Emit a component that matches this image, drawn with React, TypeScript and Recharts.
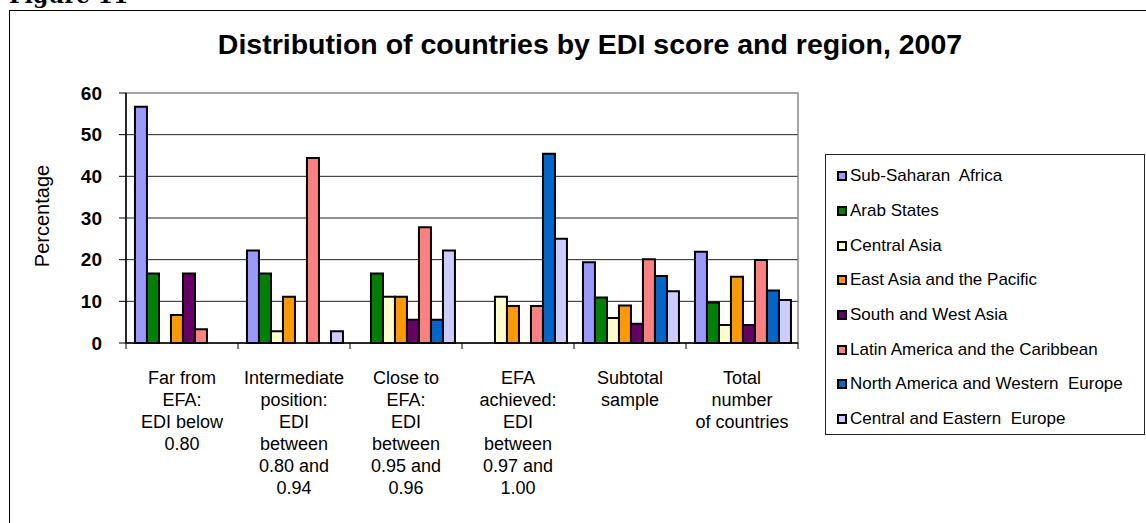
import React from 'react';
import { BarChart, Bar, XAxis, YAxis, CartesianGrid, Legend, ReferenceArea } from 'recharts';

// ---------- data ----------
const categories = [
  'Far from\nEFA:\nEDI below\n0.80',
  'Intermediate\nposition:\nEDI\nbetween\n0.80 and\n0.94',
  'Close to\nEFA:\nEDI\nbetween\n0.95 and\n0.96',
  'EFA\nachieved:\nEDI\nbetween\n0.97 and\n1.00',
  'Subtotal\nsample',
  'Total\nnumber\nof countries',
];

const seriesNames = [
  'Sub-Saharan  Africa',
  'Arab States',
  'Central Asia',
  'East Asia and the Pacific',
  'South and West Asia',
  'Latin America and the Caribbean',
  'North America and Western  Europe',
  'Central and Eastern  Europe',
];

const seriesColors = ['#9999FF', '#008000', '#FFFFCC', '#FF9900', '#660066', '#FF8080', '#0066CC', '#CCCCFF'];

const subSaharanAfrica = [56.7, 22.2, 0, 0, 19.4, 21.9];
const arabStates = [16.7, 16.7, 16.7, 0, 10.9, 9.7];
const centralAsia = [0, 2.8, 11.1, 11.1, 6.0, 4.3];
const eastAsiaPacific = [6.7, 11.1, 11.1, 8.9, 9.0, 15.9];
const southWestAsia = [16.7, 0, 5.6, 0, 4.6, 4.3];
const latinAmerica = [3.3, 44.4, 27.8, 8.9, 20.1, 19.9];
const northAmericaWesternEurope = [0, 0, 5.6, 45.4, 16.1, 12.6];
const centralEasternEurope = [0, 2.8, 22.2, 25.0, 12.4, 10.3];

const seriesValues = [
  subSaharanAfrica,
  arabStates,
  centralAsia,
  eastAsiaPacific,
  southWestAsia,
  latinAmerica,
  northAmericaWesternEurope,
  centralEasternEurope,
];

const yTicks = [0, 10, 20, 30, 40, 50, 60];
const gridValues = [10, 20, 30, 40, 50];

const data = categories.map((c, i) => {
  const row: Record<string, string | number> = { category: c };
  seriesNames.forEach((s, k) => {
    row['s' + k] = seriesValues[k][i];
  });
  return row;
});

// ---------- layout ----------
const W = 1146;
const H = 523;
const PLOT_LEFT = 126;
const PLOT_RIGHT = 798;
const PLOT_TOP = 93;
const PLOT_BOTTOM = 343;
const Y_AXIS_W = 100;
const X_AXIS_H = 150;
const TICK = 6;
const BAND = (PLOT_RIGHT - PLOT_LEFT) / categories.length;
const FONT = '"Liberation Sans", Arial, sans-serif';

const CategoryTick = (props: any) => {
  const { x, y, payload, index } = props;
  const lines = String(payload.value).split('\n');
  const top = y - TICK;
  return (
    <g>
      <line x1={x - BAND / 2} x2={x - BAND / 2} y1={top} y2={top + TICK} stroke="#000" strokeWidth={1} />
      {index === categories.length - 1 && (
        <line x1={x + BAND / 2} x2={x + BAND / 2} y1={top} y2={top + TICK} stroke="#000" strokeWidth={1} />
      )}
      <text x={x} y={y} textAnchor="middle" fontFamily={FONT} fontSize={18} fill="#000">
        {lines.map((l, i) => (
          <tspan key={i} x={x} dy={i === 0 ? 35 : 22}>
            {l}
          </tspan>
        ))}
      </text>
    </g>
  );
};

const LegendContent = () => (
  <div
    style={{
      width: 318,
      height: 275,
      border: '1px solid #222',
      background: '#fff',
      boxSizing: 'content-box',
      paddingTop: 4,
    }}
  >
    {seriesNames.map((n, i) => (
      <div
        key={n}
        style={{
          height: 34.7,
          display: 'flex',
          alignItems: 'center',
          paddingLeft: 11,
          fontFamily: FONT,
          fontSize: 17,
          color: '#000',
          whiteSpace: 'pre',
        }}
      >
        <span
          style={{
            display: 'inline-block',
            width: 6,
            height: 6,
            border: '2px solid #000',
            background: seriesColors[i],
            marginRight: 3,
          }}
        />
        {n}
      </div>
    ))}
  </div>
);

export default function App() {
  return (
    <div
      style={{
        position: 'fixed',
        left: 0,
        top: 0,
        width: W,
        height: H,
        overflow: 'hidden',
        background: '#fff',
      }}
    >
      <div
        style={{
          position: 'absolute',
          left: 9,
          top: -17,
          fontFamily: '"DejaVu Serif", serif',
          fontWeight: 'bold',
          fontSize: 22,
          color: '#000',
          lineHeight: '24px',
        }}
      >
        Figure 11
      </div>
      <div
        style={{
          position: 'absolute',
          left: 9,
          top: 10,
          width: 1200,
          height: 600,
          border: '1px solid #000',
        }}
      />
      <div
        style={{
          position: 'absolute',
          left: 0,
          top: 28,
          width: 1180,
          textAlign: 'center',
          fontFamily: FONT,
          fontWeight: 'bold',
          fontSize: 28.5,
          color: '#000',
          lineHeight: '32px',
        }}
      >
        Distribution of countries by EDI score and region, 2007
      </div>
      <div
        style={{
          position: 'absolute',
          left: 42,
          top: 216,
          transform: 'translate(-50%, -50%) rotate(-90deg)',
          fontFamily: FONT,
          fontSize: 20,
          color: '#000',
          whiteSpace: 'nowrap',
        }}
      >
        Percentage
      </div>
      <div style={{ position: 'absolute', left: 0, top: 0 }}>
        <BarChart
          width={W}
          height={H}
          data={data}
          margin={{
            top: PLOT_TOP,
            right: W - PLOT_RIGHT,
            bottom: H - PLOT_BOTTOM - X_AXIS_H,
            left: PLOT_LEFT - Y_AXIS_W,
          }}
          barCategoryGap="8%"
          barGap={0}
        >
          <ReferenceArea y1={0} y2={60} fill="none" stroke="#888" strokeWidth={1.5} ifOverflow="visible" />
          <CartesianGrid horizontal vertical={false} horizontalValues={gridValues} stroke="#222" strokeWidth={1} />
          <XAxis
            dataKey="category"
            interval={0}
            height={X_AXIS_H}
            axisLine={{ stroke: '#000', strokeWidth: 1.5 }}
            tickLine={false}
            tickSize={TICK}
            tickMargin={0}
            tick={<CategoryTick />}
          />
          <YAxis
            width={Y_AXIS_W}
            domain={[0, 60]}
            ticks={yTicks}
            interval={0}
            axisLine={{ stroke: '#000', strokeWidth: 1.5 }}
            tickLine={{ stroke: '#000' }}
            tickSize={7}
            tickMargin={17}
            tick={{ fontFamily: FONT, fontSize: 19, fontWeight: 'bold', fill: '#000' }}
          />
          <Legend
            layout="horizontal"
            verticalAlign="middle"
            align="center"
            content={<LegendContent />}
            wrapperStyle={{ position: 'absolute', left: 825, top: 154, width: 320 }}
          />
          {seriesNames.map((n, k) => (
            <Bar
              key={n}
              dataKey={'s' + k}
              name={n}
              fill={seriesColors[k]}
              stroke="#000"
              strokeWidth={2}
              isAnimationActive={false}
            />
          ))}
        </BarChart>
      </div>
    </div>
  );
}
